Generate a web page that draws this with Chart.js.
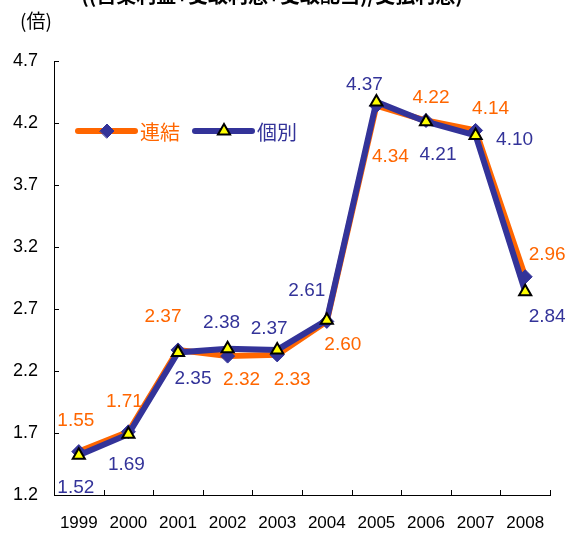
<!DOCTYPE html>
<html>
<head>
<meta charset="utf-8">
<script src="https://cdn.jsdelivr.net/npm/chart.js@4.4.1/dist/chart.umd.min.js"></script>
<style>
  body { margin: 0; background: #fff; overflow: hidden; }
  #wrap { position: relative; width: 567px; height: 535px; overflow: hidden; }
  #title { position: absolute; left: 0; top: -17px; width: 544px; text-align: center;
    font: bold 20px "Noto Sans CJK JP", sans-serif; line-height: 24px; color: #000; white-space: nowrap; }
  #unit { position: absolute; left: 20px; top: 9px; font: 19px "Noto Sans CJK JP", sans-serif;
    line-height: 22px; color: #000; }
  #box { position: absolute; left: 0; top: 0; width: 567px; height: 535px; }
</style>
</head>
<body>
<div id="wrap">
  <div id="box"><canvas id="myChart"></canvas></div>
  <div id="title">((営業利益+受取利息+受取配当)/支払利息)</div>
  <div id="unit">(倍)</div>
</div>
<script>
// data
var years = ["1999", "2000", "2001", "2002", "2003", "2004", "2005", "2006", "2007", "2008"];
var renketsu = [1.55, 1.71, 2.37, 2.32, 2.33, 2.60, 4.34, 4.22, 4.14, 2.96]; // 連結
var kobetsu = [1.52, 1.69, 2.35, 2.38, 2.37, 2.61, 4.37, 4.21, 4.10, 2.84];  // 個別
var yTicks = [1.2, 1.7, 2.2, 2.7, 3.2, 3.7, 4.2, 4.7];

// where each value label sits relative to its point
var renketsuLabelOffsets = [[-3, -31], [-4, -30], [-15, -33], [14, 24], [15, 25], [16, 23], [14, 51], [5, -23], [15, -22], [22, -22]];
var kobetsuLabelOffsets = [[-3, 32], [-2, 31], [15, 26], [-6, -26], [-8, -21], [-20, -29], [-12, -17], [12, 33], [39, 4], [22, 25]];

var ORANGE = "#FF6600";
var NAVY = "#333399";
var FONT = "'Liberation Sans', Arial, sans-serif";
var CJK = "'Noto Sans CJK JP', sans-serif";

// ticks on the inside of both axes
var innerTicks = {
  id: "innerTicks",
  afterDraw: function (chart) {
    var ctx = chart.ctx;
    var xs = chart.scales.x, ys = chart.scales.y;
    var area = chart.chartArea;
    ctx.save();
    ctx.strokeStyle = "#000";
    ctx.lineWidth = 1;
    ctx.beginPath();
    yTicks.forEach(function (v) {
      var y = Math.round(ys.getPixelForValue(v)) + 0.5;
      ctx.moveTo(area.left, y);
      ctx.lineTo(area.left + 5, y);
    });
    for (var i = 0; i <= years.length; i++) {
      var x = Math.round(xs.getPixelForValue(i - 0.5)) + 0.5;
      ctx.moveTo(x, area.bottom);
      ctx.lineTo(x, area.bottom - 5);
    }
    ctx.stroke();
    ctx.restore();
  }
};

// value labels next to each point
var valueLabels = {
  id: "valueLabels",
  afterDatasetsDraw: function (chart) {
    var ctx = chart.ctx;
    ctx.save();
    ctx.font = "19px " + FONT;
    ctx.textAlign = "center";
    ctx.textBaseline = "middle";
    chart.data.datasets.forEach(function (ds, di) {
      var meta = chart.getDatasetMeta(di);
      ctx.fillStyle = ds.borderColor;
      meta.data.forEach(function (pt, i) {
        var off = ds.labelOffsets[i];
        ctx.fillText(ds.data[i].toFixed(2), pt.x + off[0], pt.y + off[1]);
      });
    });
    ctx.restore();
  }
};

// legend: line + marker + name
var lineLegend = {
  id: "lineLegend",
  afterDraw: function (chart) {
    var ctx = chart.ctx;
    var y = 131;
    var items = [
      { ds: chart.data.datasets[0], x: 78 },
      { ds: chart.data.datasets[1], x: 195 }
    ];
    ctx.save();
    items.forEach(function (it) {
      var ds = it.ds;
      ctx.strokeStyle = ds.borderColor;
      ctx.lineWidth = 6;
      ctx.lineCap = "round";
      ctx.beginPath();
      ctx.moveTo(it.x, y);
      ctx.lineTo(it.x + 57, y);
      ctx.stroke();
      ctx.fillStyle = ds.pointBackgroundColor;
      ctx.strokeStyle = ds.pointBorderColor;
      ctx.lineWidth = ds.pointBorderWidth;
      Chart.helpers.drawPoint(ctx, {
        pointStyle: ds.pointStyle, radius: ds.pointRadius, rotation: 0, borderWidth: ds.pointBorderWidth
      }, it.x + 29, y);
      ctx.fillStyle = ds.borderColor;
      ctx.font = "20px " + CJK;
      ctx.textBaseline = "middle";
      ctx.textAlign = "left";
      ctx.fillText(ds.label, it.x + 62, y + 1);
    });
    ctx.restore();
  }
};

var ctx = document.getElementById("myChart").getContext("2d");

var myChart = new Chart(ctx, {
  type: "line",
  data: {
    labels: years,
    datasets: [{
      label: "連結",
      data: renketsu,
      labelOffsets: renketsuLabelOffsets,
      borderColor: ORANGE,
      borderWidth: 6,
      pointStyle: "rectRot",
      pointRadius: 7,
      pointBackgroundColor: NAVY,
      pointBorderColor: NAVY,
      pointBorderWidth: 1,
      tension: 0,
      order: 2
    }, {
      label: "個別",
      data: kobetsu,
      labelOffsets: kobetsuLabelOffsets,
      borderColor: NAVY,
      borderWidth: 6,
      pointStyle: "triangle",
      pointRadius: 7,
      pointBackgroundColor: "#FFFF00",
      pointBorderColor: "#000000",
      pointBorderWidth: 2,
      tension: 0,
      order: 1
    }]
  },
  options: {
    responsive: true,
    maintainAspectRatio: false,
    animation: false,
    layout: { padding: { top: 61, right: 17, bottom: 0, left: 0 } },
    plugins: {
      legend: { display: false },
      tooltip: { enabled: false }
    },
    scales: {
      x: {
        offset: true,
        grid: { display: false, drawTicks: false, offset: true },
        border: { display: true, color: "#000", width: 1 },
        ticks: { color: "#000", font: { family: FONT, size: 17 }, padding: 18, maxRotation: 0, autoSkip: false },
        afterFit: function (scale) { scale.height = 40; }
      },
      y: {
        min: 1.2,
        max: 4.7,
        grid: { display: false, drawTicks: false },
        border: { display: true, color: "#000", width: 1 },
        ticks: {
          color: "#000",
          font: { family: FONT, size: 18 },
          padding: 16,
          callback: function (v) { return Number(v).toFixed(1); }
        },
        afterBuildTicks: function (scale) {
          scale.ticks = yTicks.map(function (v) { return { value: v }; });
        },
        afterFit: function (scale) { scale.width = 54; }
      }
    }
  },
  plugins: [innerTicks, valueLabels, lineLegend]
});
</script>
</body>
</html>
